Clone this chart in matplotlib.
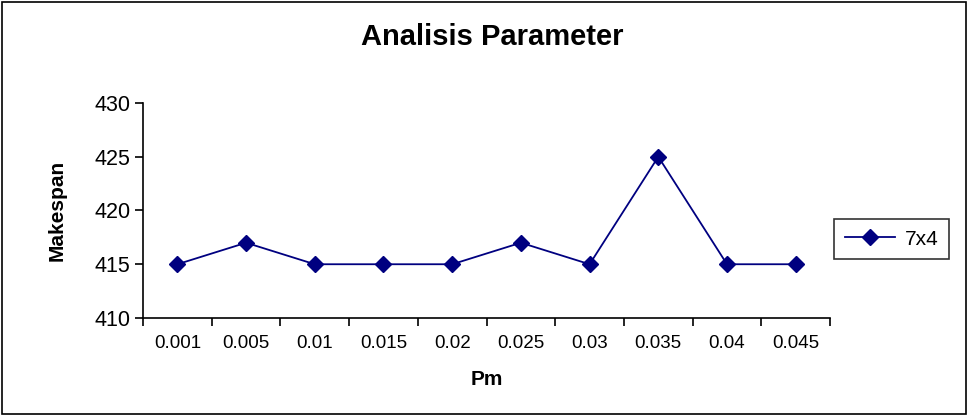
import numpy as np
import matplotlib
matplotlib.use("Agg")
import matplotlib.pyplot as plt
from matplotlib.patches import Rectangle

plt.rcParams['font.family'] = ['Liberation Sans', 'DejaVu Sans']

pm_labels = ["0.001", "0.005", "0.01", "0.015", "0.02", "0.025", "0.03", "0.035", "0.04", "0.045"]
makespan = [415, 417, 415, 415, 415, 417, 415, 425, 415, 415]

fig = plt.figure(figsize=(9.69, 4.16), dpi=100)
ax = fig.add_axes([0.1476, 0.2356, 0.7090, 0.5168])

x = np.arange(len(pm_labels))
line, = ax.plot(x, makespan, color="#000080", marker="D", markersize=8, lw=1.3, label="7x4")

ax.set_xlim(-0.5, len(pm_labels) - 0.5)
ax.set_ylim(410, 430)
ax.set_yticks([410, 415, 420, 425, 430])
ax.set_xticks(np.arange(-0.5, len(pm_labels), 1.0))
ax.set_xticklabels([])
ax.set_xticks(x, minor=True)
ax.set_xticklabels(pm_labels, minor=True, fontsize=13.5)
ax.tick_params(axis="x", which="minor", length=0, pad=12)
ax.tick_params(axis="x", which="major", direction="out", length=6, width=1.2)
ax.tick_params(axis="y", direction="out", length=6, width=1.2, labelsize=15.5, pad=3)

for s in ["top", "right"]:
    ax.spines[s].set_visible(False)
for s in ["left", "bottom"]:
    ax.spines[s].set_linewidth(1.2)

ax.set_ylabel("Makespan", fontsize=15, fontweight="bold", labelpad=20)
ax.set_xlabel("Pm", fontsize=15, fontweight="bold", labelpad=13)
fig.text(0.508, 0.91, "Analisis Parameter", ha="center", va="center", fontsize=21, fontweight="bold")

leg = fig.legend(handles=[line], loc="center left", bbox_to_anchor=(0.861, 0.425),
                 fontsize=15, frameon=True, fancybox=False, edgecolor="black",
                 handlelength=2.4, handletextpad=0.5, borderpad=0.5, borderaxespad=0)
leg.get_frame().set_linewidth(1.2)

fig.patches.append(Rectangle((0.002, 0.004), 0.995, 0.992, transform=fig.transFigure,
                             fill=False, edgecolor="black", linewidth=1.2))

fig.savefig("out.png", dpi=100)
